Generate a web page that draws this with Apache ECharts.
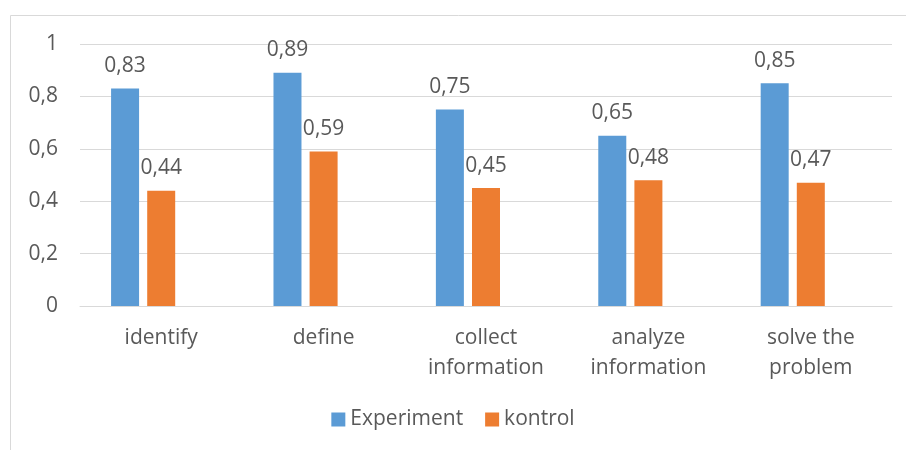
<!DOCTYPE html>
<html>
<head>
<meta charset="utf-8">
<script src="https://cdn.jsdelivr.net/npm/echarts@6/dist/echarts.min.js"></script>
<style>
  html, body { margin: 0; padding: 0; background: #fff; }
  #chart { width: 906px; height: 450px; }
</style>
</head>
<body>
<div id="chart"></div>
<script>
// data
var categories = ['identify', 'define', 'collect\ninformation', 'analyze\ninformation', 'solve the\nproblem'];
var experiment = [0.83, 0.89, 0.75, 0.65, 0.85];
var kontrol = [0.44, 0.59, 0.45, 0.48, 0.47];
// the source sheet has a third, empty series that still takes a bar slot
var emptySeries = [null, null, null, null, null];

function comma(v) {
    return String(v).replace('.', ',');
}

var dom = document.getElementById('chart');
var myChart = echarts.init(dom);
var textColor = '#595959';
var fontFamily = '"Open Sans", Lato, sans-serif';
var fs = 21;

var barLabel = {
    show: true,
    position: 'top',
    distance: 12,
    color: textColor,
    fontSize: fs,
    fontFamily: fontFamily,
    formatter: function (p) { return comma(p.value); }
};

myChart.setOption({
    animation: false,
    textStyle: { fontFamily: fontFamily },
    graphic: [{
        type: 'rect',
        shape: { x: 10.5, y: 15.5, width: 1000, height: 1000 },
        style: { fill: 'none', stroke: '#d9d9d9', lineWidth: 1 },
        silent: true
    }],
    legend: {
        data: ['Experiment', 'kontrol'],
        bottom: 15,
        left: 'center',
        itemWidth: 14,
        itemHeight: 14,
        itemGap: 22,
        icon: 'rect',
        textStyle: { color: textColor, fontSize: fs, fontFamily: fontFamily }
    },
    grid: { left: 80, right: 14, top: 44, bottom: 144 },
    xAxis: {
        type: 'category',
        data: categories,
        axisLine: { lineStyle: { color: '#d9d9d9', width: 1 } },
        axisTick: { show: false },
        axisLabel: {
            color: textColor,
            fontSize: fs,
            lineHeight: 30,
            margin: 17,
            interval: 0
        }
    },
    yAxis: {
        type: 'value',
        min: 0,
        max: 1,
        interval: 0.2,
        axisLine: { show: false },
        axisTick: { show: false },
        splitLine: { lineStyle: { color: '#d9d9d9', width: 1 } },
        axisLabel: {
            color: textColor,
            fontSize: fs,
            margin: 22,
            formatter: function (v) { return comma(Math.round(v * 10) / 10); }
        }
    },
    series: [
        {
            name: 'Experiment',
            type: 'bar',
            data: experiment,
            barWidth: 28,
            barGap: '29%',
            itemStyle: { color: '#5b9bd5' },
            label: barLabel
        },
        {
            name: 'kontrol',
            type: 'bar',
            data: kontrol,
            barWidth: 28,
            itemStyle: { color: '#ed7d31' },
            label: barLabel
        },
        {
            name: 'empty',
            type: 'bar',
            data: emptySeries,
            barWidth: 28,
            itemStyle: { color: '#a5a5a5' }
        }
    ]
});
window.addEventListener('resize', function () {
    myChart.resize();
});
</script>
</body>
</html>
